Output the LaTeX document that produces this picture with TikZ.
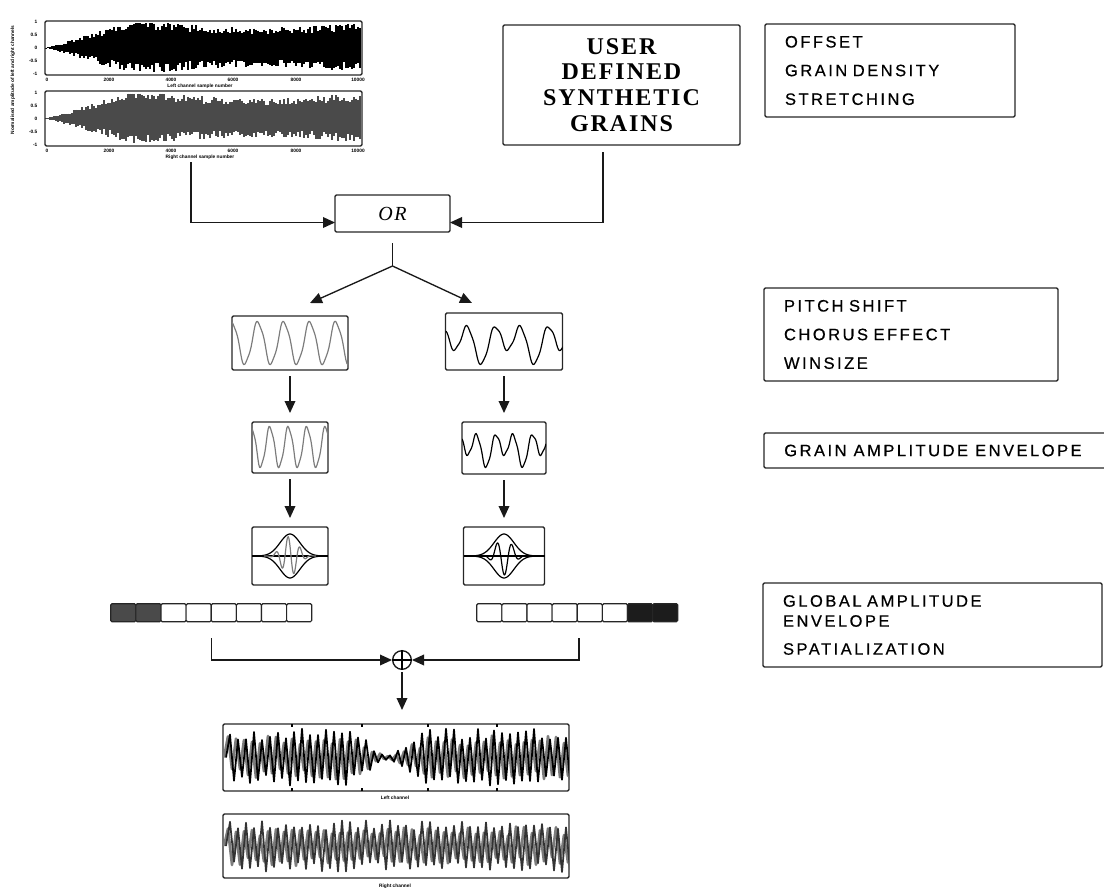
\documentclass[tikz,border=0pt]{standalone}
\usepackage{fontspec}
\newfontfamily\labelfont[LetterSpace=15, FakeBold=0.5]{Liberation Sans}
\newfontfamily\titlefont[LetterSpace=8]{Liberation Serif}
\newfontfamily\tinyfont{Liberation Sans}
\usepackage{tikz}
\usetikzlibrary{arrows.meta, calc}
\definecolor{wavegray}{HTML}{7C7C7C}
\definecolor{fillgray}{HTML}{4A4A4A}
\definecolor{cellblack}{HTML}{1C1C1C}
\newcommand{\lbl}{\labelfont\fontsize{12.4pt}{21.5pt}\selectfont}
\newcommand{\ticktext}{\tinyfont\bfseries\fontsize{3.6pt}{4pt}\selectfont}

\begin{document}
\begin{tikzpicture}[
    x=0.75pt, y=-0.75pt,
    wh/.style 2 args={minimum width=#1*0.75pt, minimum height=#2*0.75pt},
    frame/.style={draw=black!85, line width=1.1pt, rounded corners=1pt,
        inner sep=0pt, outer sep=0pt},
    infobox/.style={frame, inner xsep=15pt, align=left, font=\lbl},
    arr/.style={-{Triangle[length=9pt, width=8pt]}, line width=1pt, black!90},
    garr/.style={arr, shorten <=4.5pt, shorten >=6.75pt},
    line/.style={line width=1pt, black!90},
    cell/.style={draw=black!85, line width=0.9pt, rounded corners=1pt},
    wave/.style={line width=0.9pt, line join=round},
    dense/.style={line width=1.3pt, line join=round}
]
\useasboundingbox (0,0) rectangle (1104,890);

% source sound, two channels
\pgfmathsetseed{17}
\foreach \x in {46,48,...,360}{
  \pgfmathsetmacro\env{min(1,(\x-45)/85)*(0.82+0.12*sin((\x-45)*1.25))}
  \pgfmathsetmacro\up{min(25,\env*(19+10*rnd))}
  \pgfmathsetmacro\dn{min(25,\env*(16+11*rnd))}
  \draw[line width=1.55pt] (\x,48-\up) -- (\x,48+\dn);
  \pgfmathsetmacro\up{min(25,\env*(19+10*rnd))}
  \pgfmathsetmacro\dn{min(25,\env*(16+11*rnd))}
  \draw[fillgray, line width=1.55pt] (\x,118.5-\up) -- (\x,118.5+\dn);
}
\node[frame, wh={317}{54}] (src1) at (203.5,48) {};
\node[frame, wh={317}{55}] (src2) at (203.5,118.5) {};
\foreach \v/\yy [count=\i] in {1/22, 0.5/35, 0/48, -0.5/61, -1/74}{
  \node[font=\ticktext, anchor=east] (ya\i) at (42,\yy) {\v};
  \node[font=\ticktext, anchor=east] (yb\i) at (42,\yy+70.5) {\v};
}
\foreach \v/\xx [count=\i] in {0/47, 2000/109, 4000/171, 6000/233, 8000/296, 10000/358}{
  \node[font=\ticktext] (xa\i) at (\xx,80) {\v};
  \node[font=\ticktext] (xb\i) at (\xx,151) {\v};
}
\node[font=\ticktext] (xlabA) at (200,86) {Left channel sample number};
\node[font=\ticktext] (xlabB) at (200,157) {Right channel sample number};
\node[font=\ticktext, rotate=90] (ylab) at (13,80) {Normalised amplitude of left and right channels};

% synthetic grains and parameters
\node[frame, wh={237}{120}, align=center,
    font=\titlefont\bfseries\fontsize{18pt}{19.3pt}\selectfont] (user) at (621.5,85)
    {USER\\DEFINED\\SYNTHETIC\\GRAINS};
\node[infobox, wh={250}{93}, text width=157.5pt] (params) at (890,70.5)
    {OFFSET\\GRAIN DENSITY\\STRETCHING};

\node[frame, wh={115}{37}, font=\titlefont\itshape\fontsize{15pt}{15pt}\selectfont]
    (or) at (392.5,213.5) {OR};
\coordinate (srcout) at (191,162);
\coordinate (userout) at (603,152);
\draw[arr] (srcout) |- ($(or.west)+(0,9)$);
\draw[arr] (userout) |- ($(or.east)+(0,9)$);
\coordinate (split) at (392.5,266);
\coordinate (toL) at (310,303);
\coordinate (toR) at (472,303);
\draw[line] ($(or.south)+(0,11)$) -- (split);
\draw[arr] (split) -- (toL);
\draw[arr] (split) -- (toR);

% grain chains
\node[frame, wh={116}{54}] (wL1) at (290,343) {};
\node[frame, wh={117}{57}] (wR1) at (504,341.5) {};
\node[frame, wh={76}{51}] (wL2) at (290,447.5) {};
\node[frame, wh={84}{52}] (wR2) at (504,448) {};
\node[frame, wh={76}{58}] (wL3) at (290,556) {};
\node[frame, wh={81}{58}] (wR3) at (504,556) {};

\begin{scope}
  \clip (wL1.south west) rectangle (wL1.north east);
  \draw[wave, wavegray] plot[domain=232:348, samples=110]
    (\x, {343-21*cos((\x-258)*13.85)+2*sin((\x-258)*41.5)});
\end{scope}
\begin{scope}
  \clip (wR1.south west) rectangle (wR1.north east);
  \draw[wave] plot[domain=446:563, samples=110]
    (\x, {342-15*cos((\x-468)*13.58)+7*sin((\x-468)*6.79)+1.5*sin((\x-468)*40.7)});
\end{scope}
\begin{scope}
  \clip (wL2.south west) rectangle (wL2.north east);
  \draw[wave, wavegray] plot[domain=252:328, samples=90]
    (\x, {447-20*cos((\x-270)*19.46)+2*sin((\x-270)*58.4)});
\end{scope}
\begin{scope}
  \clip (wR2.south west) rectangle (wR2.north east);
  \draw[wave] plot[domain=462:546, samples=90]
    (\x, {448-13*cos((\x-477)*19.67)+6*sin((\x-477)*9.84)+1.5*sin((\x-477)*59)});
\end{scope}

% grain envelopes
\draw[wave] (wL3.west) -- (wL3.east);
\draw[wave] plot[domain=256:324, samples=60] (\x, {556-22*exp(-1*((\x-290)/14)*((\x-290)/14))});
\draw[wave] plot[domain=256:324, samples=60] (\x, {556+22*exp(-1*((\x-290)/14)*((\x-290)/14))});
\draw[wave, wavegray] plot[domain=264:316, samples=80]
  (\x, {556-20*exp(-1*((\x-290)/11)*((\x-290)/11))*cos((\x-288)*30)});
\draw[wave] (wR3.west) -- (wR3.east);
\draw[wave] plot[domain=470:538, samples=60] (\x, {556-22*exp(-1*((\x-504)/14)*((\x-504)/14))});
\draw[wave] plot[domain=470:538, samples=60] (\x, {556+22*exp(-1*((\x-504)/14)*((\x-504)/14))});
\draw[wave] plot[domain=478:530, samples=80]
  (\x, {556-19*exp(-1*((\x-504)/11)*((\x-504)/11))*cos((\x-497)*24)});

\draw[garr] (wL1) -- (wL2);
\draw[garr] (wL2) -- (wL3);
\draw[garr] (wR1) -- (wR2);
\draw[garr] (wR2) -- (wR3);

% global amplitude envelope / spatialization
\node[wh={201}{18}, inner sep=0pt] (barL) at (211.5,613) {};
\node[wh={201}{18}, inner sep=0pt] (barR) at (577.5,613) {};
\foreach \i in {0,...,7}{
  \ifnum\i<2 \def\lc{fillgray}\else\def\lc{white}\fi
  \ifnum\i>5 \def\rc{cellblack}\else\def\rc{white}\fi
  \draw[cell, fill=\lc] ($(barL.north west)+(\i*25.125,0)$) rectangle ++(25.125,18);
  \draw[cell, fill=\rc] ($(barR.north west)+(\i*25.125,0)$) rectangle ++(25.125,18);
}

\node[circle, draw=black!90, line width=1pt, minimum size=14pt, inner sep=0pt] (sum) at (402,660) {};
\draw[line width=0.9pt] (sum.north) -- (sum.south) (sum.west) -- (sum.east);
\draw[arr] ($(barL.south)+(0,16)$) |- (sum.west);
\draw[arr] ($(barR.south)+(1.5,16)$) |- (sum.east);

% output channels
\node[frame, wh={346}{67}] (outA) at (396,757.5) {};
\node[frame, wh={346}{64}] (outB) at (396,846) {};
\draw[arr, shorten <=1.5pt, shorten >=10.5pt] (sum.south) -- (sum.south |- outA.north);

\begin{scope}
  \clip (outA.south west) rectangle (outA.north east);
  \pgfmathsetseed{5}
  \draw[dense, wavegray, line width=2pt] (224,757.5) \foreach \k in {1,...,87}{
    -- ({224+\k*4}, {757.5+cos(\k*180)*22*(0.5+0.5*rnd)*(1-0.9*exp(-1*((224+\k*4-388)/24)*((224+\k*4-388)/24)))}) };
  \draw[dense] (226,757.5) \foreach \k in {1,...,87}{
    -- ({226+\k*4}, {757.5+cos(\k*180)*29*(0.6+0.4*rnd)*(1-0.9*exp(-1*((226+\k*4-388)/24)*((226+\k*4-388)/24)))}) };
\end{scope}
\foreach \xx in {292,362,428,497}{
  \draw[line width=0.8pt] (\xx,724) -- ++(0,3) (\xx,791) -- ++(0,-3);
}
\begin{scope}
  \clip (outB.south west) rectangle (outB.north east);
  \pgfmathsetseed{9}
  \draw[dense, wavegray, line width=2pt] (224,846) \foreach \k in {1,...,87}{
    -- ({224+\k*4}, {846+cos(\k*180)*20*(0.5+0.5*rnd)}) };
  \draw[dense, black!80] (226,846) \foreach \k in {1,...,87}{
    -- ({226+\k*4}, {846+cos(\k*180)*26*(0.6+0.4*rnd)}) };
\end{scope}
\node[font=\ticktext] (capA) at (395,798) {Left channel};
\node[font=\ticktext] (capB) at (395,886) {Right channel};

% parameter boxes
\node[infobox, wh={294}{93}, text width=190.5pt] (pitch) at (911,334.5)
    {PITCH SHIFT\\CHORUS EFFECT\\WINSIZE};
\node[font=\lbl, anchor=west, inner sep=0pt] (genv) at (784,450.5) {GRAIN AMPLITUDE ENVELOPE};
\draw[frame] (1104,433) -| (764,468) -- (1104,468);
\node[infobox, wh={339}{84}, text width=224.25pt,
    font=\labelfont\fontsize{12.4pt}{15pt}\selectfont] (global) at (932.5,625)
    {GLOBAL AMPLITUDE\\ENVELOPE\\[6pt]SPATIALIZATION};
\end{tikzpicture}
\end{document}
